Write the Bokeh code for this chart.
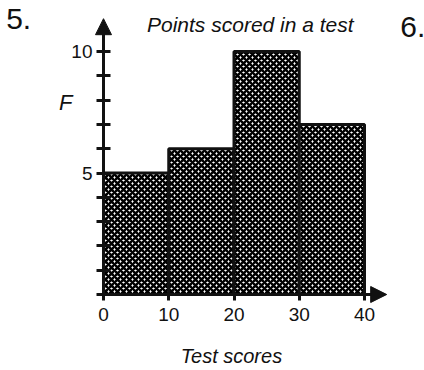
from bokeh.plotting import figure
from bokeh.models import Range1d, FixedTicker, Arrow, NormalHead, Label
from bokeh.embed import file_html
from bokeh.resources import INLINE

# data
bin_left = [0, 10, 20, 30]
bin_right = [10, 20, 30, 40]
frequency = [5, 6, 10, 7]
x_ticks = [0, 10, 20, 30, 40]
y_ticks = [0, 1, 2, 3, 4, 5, 6, 7, 8, 9, 10]
y_tick_labels = {5: "5", 10: "10"}

title_text = "Points scored in a test"
x_label = "Test scores"
y_label = "F"

FONT = "Liberation Sans"
INK = "#111111"

W, H = 424, 370
X0_PX, Y0_PX = 103, 294        # pixel position of the origin
SX, SY = 6.525, 24.3           # pixels per data unit

p = figure(width=W, height=H, output_backend="svg", toolbar_location=None,
           x_range=Range1d(-X0_PX / SX, (W - X0_PX) / SX),
           y_range=Range1d(-(H - Y0_PX) / SY, Y0_PX / SY),
           min_border=0)
p.outline_line_color = None
p.grid.visible = False
p.background_fill_color = "white"

p.quad(left=bin_left, right=bin_right, bottom=0, top=frequency,
       fill_color="white", hatch_pattern="diagonal_cross", hatch_color="black",
       hatch_scale=6, hatch_weight=2.5, line_color=INK, line_width=3)

# axes, pinned to the origin
p.xaxis.fixed_location = 0
p.yaxis.fixed_location = 0
p.xaxis.bounds = (0, 43)
p.yaxis.bounds = (-0.05, 11.2)
p.xaxis.ticker = FixedTicker(ticks=x_ticks)
p.yaxis.ticker = FixedTicker(ticks=y_ticks)
p.yaxis.major_label_overrides = {t: y_tick_labels.get(t, "") for t in y_ticks}
for ax in (p.xaxis, p.yaxis):
    ax.axis_line_width = 3
    ax.axis_line_color = INK
    ax.major_tick_line_width = 3
    ax.major_tick_line_color = INK
    ax.minor_tick_line_color = None
    ax.major_label_text_font = FONT
    ax.major_label_text_font_size = "19px"
    ax.major_label_text_color = INK
p.xaxis.major_tick_in = 2
p.xaxis.major_tick_out = 6
p.xaxis.major_label_standoff = 7
p.yaxis.major_tick_in = 7
p.yaxis.major_tick_out = 7
p.yaxis.major_label_standoff = 4

# arrows
p.add_layout(Arrow(end=NormalHead(size=16, fill_color=INK, line_color=INK),
                   x_start=0, y_start=0, x_end=43.4, y_end=0,
                   line_width=3, line_color=INK))
p.add_layout(Arrow(end=NormalHead(size=16, fill_color=INK, line_color=INK),
                   x_start=0, y_start=0, x_end=0, y_end=11.35,
                   line_width=3, line_color=INK))

# texts
p.add_layout(Label(x=22.5, y=11.11, text=title_text, text_font=FONT, text_font_size="21px",
                   text_font_style="italic", text_align="center", text_baseline="middle",
                   text_color=INK))
p.add_layout(Label(x=19.6, y=-2.52, text=x_label, text_font=FONT, text_font_size="20px",
                   text_font_style="italic", text_align="center", text_baseline="middle",
                   text_color=INK))
p.add_layout(Label(x=-5.8, y=7.92, text=y_label, text_font=FONT, text_font_size="22px",
                   text_font_style="italic", text_align="center", text_baseline="middle",
                   text_color=INK))
p.add_layout(Label(x=-13.0, y=11.32, text="5.", text_font=FONT, text_font_size="30px",
                   text_align="center", text_baseline="middle", text_color=INK))
p.add_layout(Label(x=47.4, y=11.0, text="6.", text_font=FONT, text_font_size="30px",
                   text_align="center", text_baseline="middle", text_color=INK))

open("out.html", "w").write(file_html(p, INLINE))
